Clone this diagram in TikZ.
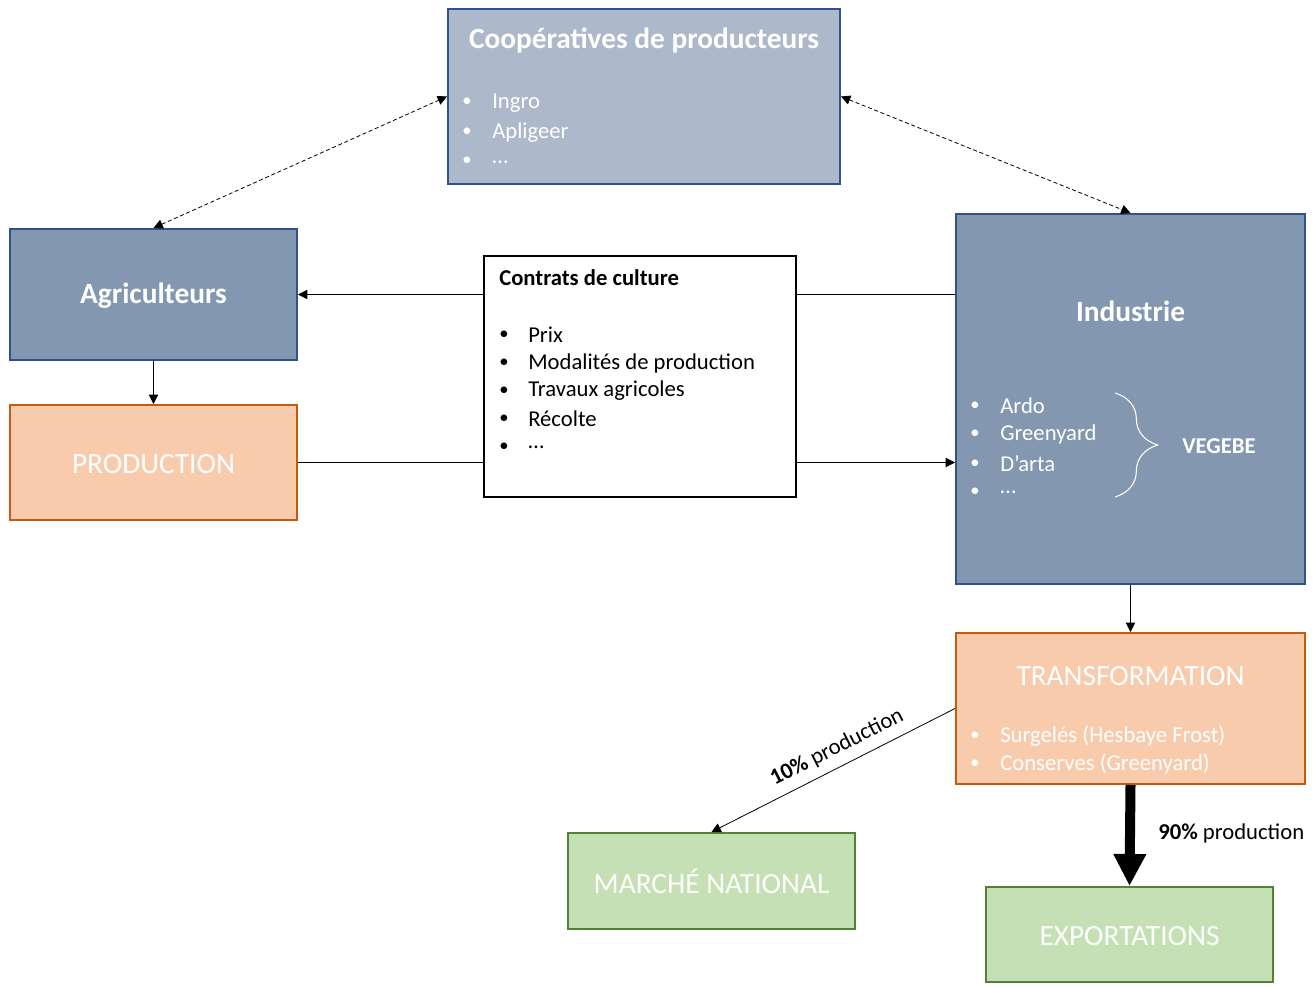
\documentclass[tikz,border=0pt]{standalone}
\usepackage{fontspec}
\setmainfont{Carlito}
\usepackage{tikz}
\usetikzlibrary{arrows.meta,decorations.pathreplacing,positioning}
\definecolor{coopfill}{HTML}{ADB9CA}
\definecolor{bluefill}{HTML}{8497B0}
\definecolor{blueline}{HTML}{2F528F}
\definecolor{orangefill}{HTML}{F8CBAD}
\definecolor{orangeline}{HTML}{C55A11}
\definecolor{greenfill}{HTML}{C5E0B4}
\definecolor{greenline}{HTML}{548235}
\newcommand{\bodyfont}{\fontsize{17}{20}\selectfont}
\newcommand{\titlefont}{\fontsize{22}{26}\selectfont}
\newcommand{\dotfont}{\fontsize{14}{16}\selectfont}

\begin{document}
\begin{tikzpicture}[x=0.75pt,y=-0.75pt,
	box/.style={draw,line width=1.5pt,inner sep=0pt},
	bluebox/.style={box,draw=blueline,fill=bluefill},
	orangebox/.style={box,draw=orangeline,fill=orangefill},
	greenbox/.style={box,draw=greenline,fill=greenfill},
	title/.style={text=white,font=\titlefont\bfseries,inner sep=0pt},
	caps/.style={text=white,font=\titlefont,inner sep=0pt},
	item/.style={font=\bodyfont,anchor=west,inner sep=0pt},
	witem/.style={item,text=white},
	dot/.style={font=\dotfont,inner sep=0pt},
	wdot/.style={dot,text=white},
	arr/.style={line width=0.6pt,-{Triangle[length=7pt,width=7pt]}},
	dotarr/.style={line width=0.6pt,dash pattern=on 3pt off 2pt,{Triangle[length=7pt,width=7pt]}-{Triangle[length=7pt,width=7pt]}},
	bigarr/.style={line width=7.5pt,-{Triangle[length=24pt,width=23pt]}}]
			\useasboundingbox (0,0) rectangle (1316,987);
			% boxes
			\node[bluebox,fill=coopfill,minimum width=294pt,minimum height=131.25pt] (coop) at (644,96.5) {};
			\node[bluebox,minimum width=215.25pt,minimum height=98.25pt] (agri) at (153.5,294.5) {};
			\node[orangebox,minimum width=215.25pt,minimum height=86.25pt] (prod) at (153.5,462.5) {};
			\node[box,draw=black,line width=0.9pt,fill=white,minimum width=234pt,minimum height=180.75pt] (contrats) at (640,376.5) {};
			\node[bluebox,minimum width=261.75pt,minimum height=277.5pt] (industrie) at (1130.5,399) {};
			\node[orangebox,minimum width=261.75pt,minimum height=113.25pt] (transf) at (1130.5,708.5) {};
			\node[greenbox,minimum width=215.25pt,minimum height=72pt] (marche) at (711.5,881) {};
			\node[greenbox,minimum width=215.25pt,minimum height=71.25pt] (export) at (1129.5,934.5) {};

			% texts
			\node[title] (cooptitle) at (644,40) {Coopératives de producteurs};
			\foreach \y/\t [count=\i] in {101/Ingro,131/Apligeer,160/…} {
				\node[wdot] (coopdot\i) at (467,\y+1) {•};
				\node[witem] (coopitem\i) at (492,\y+2) {\t};
			}
			\node[title] (agrititle) at (153.5,296) {Agriculteurs};
			\node[caps] (prodtitle) at (153.5,464) {PRODUCTION};
			\node[item,font=\bodyfont\bfseries] (contratstitle) at (499,278) {Contrats de culture};
			\foreach \y/\t [count=\i] in {334/Prix,362/Modalités de production,390/Travaux agricoles,418/Récolte,446/…} {
				\node[dot] (contratsdot\i) at (504,\y+1) {•};
				\node[item] (contratsitem\i) at (528,\y+1) {\t};
			}
			\node[title] (industrietitle) at (1130.5,311) {Industrie};
			\foreach \y/\t [count=\i] in {405/Ardo,433/Greenyard,463/D’arta,491/…} {
				\node[wdot] (inddot\i) at (975,\y+1) {•};
				\node[witem] (inditem\i) at (1000,\y+1) {\t};
			}
			\coordinate (bracetop) at (1115,393);
			\coordinate (bracebot) at (1115,497);
			\draw[white,line width=0.8pt,decorate,decoration={brace,amplitude=32pt}] (bracetop) -- (bracebot);
			\node[witem,font=\bodyfont\bfseries] (vegebe) at (1182,446) {VEGEBE};
			\node[caps] (transftitle) at (1130.5,676) {TRANSFORMATION};
			\foreach \y/\t [count=\i] in {735/Surgelés (Hesbaye Frost),763/Conserves (Greenyard)} {
				\node[wdot] (transfdot\i) at (975,\y+1) {•};
				\node[witem] (transfitem\i) at (1000,\y+1) {\t};
			}
			\node[caps] (marchetitle) at (711.5,881) {MARCHÉ NATIONAL};
			\node[caps] (exporttitle) at (1129.5,936) {EXPORTATIONS};

			% connectors
			\draw[dotarr] (agri.north) -- (coop.west);
			\draw[dotarr] (coop.east) -- (industrie.north);
			\draw[arr] (agri.east -| contrats.west) -- (agri.east);
			\draw[line width=0.6pt] (agri.east -| industrie.west) -- (agri.east -| contrats.east);
			\draw[line width=0.6pt] (prod.east) -- (prod.east -| contrats.west);
			\draw[arr] (prod.east -| contrats.east) -- (prod.east -| industrie.west);
			\draw[arr] (agri.south) -- (prod.north);
			\draw[arr] (industrie.south) -- (transf.north);
			\draw[arr] (transf.west) -- node[pos=0.45,above=3pt,sloped,font=\bodyfont] (lab10) {\textbf{10\%} production} (marche.north);
			\draw[bigarr] (transf.south) -- (export.north);
			\node[item] (lab90) at (1158,833) {\textbf{90\%} production};
		\end{tikzpicture}
\end{document}
